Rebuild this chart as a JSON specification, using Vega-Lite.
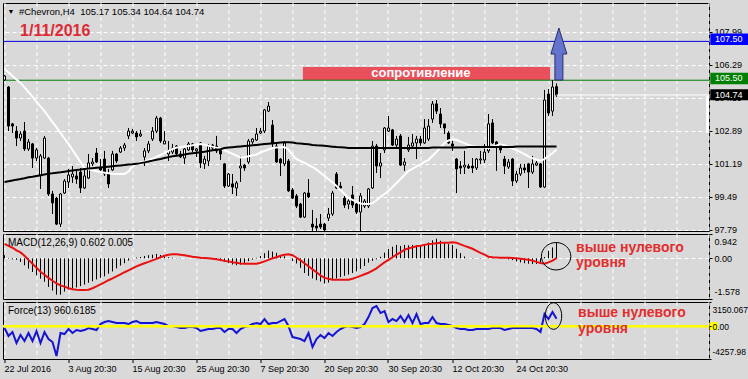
{
"$schema": "https://vega.github.io/schema/vega-lite/v6.json",
"background": "#d9d9d9",
"padding": {"left": 2, "top": 2, "right": 0, "bottom": 6},
"config": {
  "font": "Liberation Sans",
  "view": {"stroke": "#000000", "strokeWidth": 1},
  "scale": {"continuousPadding": 0},
  "axis": {"labelFont": "Liberation Sans", "labelFontSize": 9, "labelColor": "#000000", "tickColor": "#000000", "title": null, "domain": false},
  "text": {"font": "Liberation Sans"}
},
"datasets": {
"bars": [
{"i":0,"o":105.51,"h":105.77,"l":105.46,"c":105.72,"w":106.08,"b":100.26,"m":0.12,"s":0.56,"f":-234},
{"i":1,"o":105.15,"h":105.20,"l":102.88,"c":103.14,"w":105.90,"b":100.30,"m":-0.02,"s":0.48,"f":-1274},
{"i":2,"o":103.25,"h":103.30,"l":102.78,"c":103.14,"w":105.72,"b":100.34,"m":-0.04,"s":0.41,"f":-754},
{"i":3,"o":102.88,"h":103.14,"l":102.11,"c":102.52,"w":105.54,"b":100.38,"m":-0.06,"s":0.31,"f":-2184},
{"i":4,"o":102.52,"h":102.88,"l":102.37,"c":102.73,"w":105.36,"b":100.41,"m":-0.14,"s":0.23,"f":-1144},
{"i":5,"o":102.88,"h":103.35,"l":101.86,"c":101.96,"w":105.13,"b":100.45,"m":-0.27,"s":0.10,"f":-1924},
{"i":6,"o":101.96,"h":102.47,"l":101.86,"c":102.32,"w":104.89,"b":100.50,"m":-0.40,"s":-0.06,"f":-884},
{"i":7,"o":102.22,"h":102.27,"l":100.98,"c":101.49,"w":104.66,"b":100.53,"m":-0.53,"s":-0.21,"f":-1924},
{"i":8,"o":101.49,"h":102.01,"l":101.34,"c":101.91,"w":104.38,"b":100.57,"m":-0.66,"s":-0.37,"f":-624},
{"i":9,"o":100.57,"h":101.70,"l":99.90,"c":101.60,"w":104.15,"b":100.61,"m":-0.79,"s":-0.52,"f":-2184},
{"i":10,"o":101.49,"h":102.63,"l":101.44,"c":102.52,"w":103.91,"b":100.65,"m":-0.91,"s":-0.64,"f":-754},
{"i":11,"o":101.49,"h":101.55,"l":99.54,"c":99.64,"w":103.63,"b":100.69,"m":-1.11,"s":-0.76,"f":-1664},
{"i":12,"o":99.64,"h":99.80,"l":98.61,"c":99.18,"w":103.35,"b":100.71,"m":-1.25,"s":-0.87,"f":-2054},
{"i":13,"o":99.43,"h":99.49,"l":98.04,"c":98.09,"w":103.07,"b":100.74,"m":-1.41,"s":-0.97,"f":-3874},
{"i":14,"o":98.09,"h":99.69,"l":97.94,"c":99.64,"w":102.78,"b":100.76,"m":-1.41,"s":-1.05,"f":-884},
{"i":15,"o":99.69,"h":100.41,"l":99.64,"c":100.31,"w":102.50,"b":100.79,"m":-1.29,"s":-1.10,"f":-1014},
{"i":16,"o":100.26,"h":100.93,"l":99.95,"c":100.62,"w":102.22,"b":100.82,"m":-1.21,"s":-1.16,"f":-364},
{"i":17,"o":100.52,"h":101.08,"l":100.21,"c":100.67,"w":101.91,"b":100.85,"m":-1.17,"s":-1.20,"f":-884},
{"i":18,"o":100.57,"h":100.83,"l":100.16,"c":100.41,"w":101.60,"b":100.88,"m":-1.13,"s":-1.22,"f":-494},
{"i":19,"o":100.77,"h":100.98,"l":99.69,"c":99.95,"w":101.29,"b":100.90,"m":-1.08,"s":-1.23,"f":-624},
{"i":20,"o":99.95,"h":100.93,"l":99.90,"c":100.57,"w":100.98,"b":100.93,"m":-1.02,"s":-1.23,"f":-494},
{"i":21,"o":100.46,"h":101.70,"l":100.41,"c":101.24,"w":100.92,"b":100.95,"m":-0.95,"s":-1.22,"f":-234},
{"i":22,"o":101.19,"h":101.49,"l":101.08,"c":101.29,"w":100.86,"b":100.97,"m":-0.89,"s":-1.16,"f":-364},
{"i":23,"o":101.75,"h":102.01,"l":101.24,"c":101.29,"w":100.81,"b":100.99,"m":-0.82,"s":-1.09,"f":-494},
{"i":24,"o":100.98,"h":101.44,"l":100.83,"c":100.88,"w":100.77,"b":101.01,"m":-0.76,"s":-1.01,"f":286},
{"i":25,"o":101.44,"h":101.86,"l":100.57,"c":100.67,"w":100.74,"b":101.03,"m":-0.70,"s":-0.93,"f":546},
{"i":26,"o":100.67,"h":100.93,"l":99.95,"c":100.16,"w":100.71,"b":101.05,"m":-0.60,"s":-0.85,"f":676},
{"i":27,"o":100.88,"h":101.86,"l":100.83,"c":101.70,"w":100.68,"b":101.07,"m":-0.51,"s":-0.78,"f":546},
{"i":28,"o":101.70,"h":101.75,"l":101.24,"c":101.34,"w":100.67,"b":101.09,"m":-0.39,"s":-0.70,"f":416},
{"i":29,"o":101.80,"h":102.11,"l":101.75,"c":102.01,"w":100.67,"b":101.11,"m":-0.28,"s":-0.62,"f":416},
{"i":30,"o":102.01,"h":102.27,"l":101.86,"c":102.16,"w":100.67,"b":101.13,"m":-0.19,"s":-0.54,"f":416},
{"i":31,"o":102.63,"h":103.04,"l":102.47,"c":102.88,"w":100.80,"b":101.16,"m":-0.09,"s":-0.47,"f":286},
{"i":32,"o":102.78,"h":102.99,"l":102.73,"c":102.88,"w":101.06,"b":101.17,"m":-0.01,"s":-0.39,"f":546},
{"i":33,"o":102.78,"h":102.88,"l":102.37,"c":102.58,"w":101.21,"b":101.20,"m":0.03,"s":-0.31,"f":676},
{"i":34,"o":102.63,"h":102.94,"l":102.58,"c":102.73,"w":101.26,"b":101.23,"m":0.05,"s":-0.25,"f":416},
{"i":35,"o":101.55,"h":102.01,"l":101.08,"c":101.86,"w":101.31,"b":101.27,"m":0.09,"s":-0.19,"f":416},
{"i":36,"o":101.86,"h":102.37,"l":101.75,"c":102.22,"w":101.38,"b":101.31,"m":0.12,"s":-0.14,"f":416},
{"i":37,"o":102.47,"h":103.09,"l":102.37,"c":102.88,"w":101.46,"b":101.36,"m":0.14,"s":-0.08,"f":416},
{"i":38,"o":102.88,"h":103.66,"l":102.78,"c":103.55,"w":101.55,"b":101.40,"m":0.17,"s":-0.02,"f":546},
{"i":39,"o":103.55,"h":103.61,"l":102.27,"c":102.37,"w":101.65,"b":101.44,"m":0.13,"s":0.04,"f":416},
{"i":40,"o":102.22,"h":102.88,"l":102.20,"c":102.37,"w":101.75,"b":101.49,"m":0.08,"s":0.10,"f":286},
{"i":41,"o":101.70,"h":102.37,"l":101.34,"c":101.86,"w":101.86,"b":101.54,"m":0.04,"s":0.14,"f":26},
{"i":42,"o":101.80,"h":102.22,"l":101.70,"c":102.01,"w":101.96,"b":101.58,"m":0.02,"s":0.16,"f":26},
{"i":43,"o":102.11,"h":102.16,"l":101.65,"c":101.70,"w":102.03,"b":101.61,"m":0.01,"s":0.16,"f":-104},
{"i":44,"o":101.70,"h":101.86,"l":101.49,"c":101.55,"w":102.05,"b":101.64,"m":0.01,"s":0.14,"f":-234},
{"i":45,"o":101.49,"h":102.01,"l":101.19,"c":101.96,"w":102.09,"b":101.67,"m":0.00,"s":0.12,"f":-234},
{"i":46,"o":101.91,"h":102.32,"l":101.86,"c":102.22,"w":102.11,"b":101.71,"m":0.01,"s":0.09,"f":-104},
{"i":47,"o":102.22,"h":102.27,"l":101.80,"c":101.91,"w":102.15,"b":101.74,"m":0.00,"s":0.06,"f":-104},
{"i":48,"o":101.86,"h":102.01,"l":101.55,"c":101.96,"w":102.18,"b":101.76,"m":-0.01,"s":0.04,"f":-234},
{"i":49,"o":102.27,"h":102.32,"l":100.98,"c":101.24,"w":102.21,"b":101.79,"m":-0.02,"s":0.02,"f":-624},
{"i":50,"o":101.19,"h":101.60,"l":100.93,"c":101.44,"w":102.18,"b":101.82,"m":-0.01,"s":0.01,"f":-494},
{"i":51,"o":101.34,"h":102.22,"l":101.08,"c":102.11,"w":102.13,"b":101.86,"m":0.00,"s":0.00,"f":-364},
{"i":52,"o":102.16,"h":102.22,"l":101.86,"c":102.01,"w":102.08,"b":101.89,"m":-0.02,"s":-0.02,"f":-364},
{"i":53,"o":102.11,"h":102.63,"l":101.75,"c":101.86,"w":102.03,"b":101.92,"m":-0.04,"s":-0.04,"f":-234},
{"i":54,"o":101.91,"h":102.01,"l":101.39,"c":101.70,"w":101.97,"b":101.95,"m":-0.09,"s":-0.07,"f":-234},
{"i":55,"o":101.19,"h":101.24,"l":99.95,"c":100.05,"w":101.89,"b":102.01,"m":-0.14,"s":-0.10,"f":-754},
{"i":56,"o":100.05,"h":100.72,"l":100.00,"c":100.67,"w":101.80,"b":102.03,"m":-0.19,"s":-0.12,"f":-364},
{"i":57,"o":100.16,"h":100.67,"l":99.64,"c":100.00,"w":101.71,"b":102.05,"m":-0.24,"s":-0.15,"f":-364},
{"i":58,"o":99.95,"h":100.31,"l":99.54,"c":100.21,"w":101.61,"b":102.07,"m":-0.27,"s":-0.17,"f":-884},
{"i":59,"o":100.98,"h":101.60,"l":100.26,"c":101.08,"w":101.52,"b":102.09,"m":-0.24,"s":-0.20,"f":-364},
{"i":60,"o":101.13,"h":101.19,"l":100.83,"c":100.98,"w":101.53,"b":102.11,"m":-0.18,"s":-0.21,"f":-104},
{"i":61,"o":101.29,"h":102.47,"l":101.19,"c":102.37,"w":101.58,"b":102.13,"m":-0.11,"s":-0.21,"f":26},
{"i":62,"o":102.32,"h":102.52,"l":102.22,"c":102.47,"w":101.63,"b":102.15,"m":-0.05,"s":-0.21,"f":286},
{"i":63,"o":102.42,"h":103.04,"l":102.37,"c":102.73,"w":101.67,"b":102.17,"m":0.02,"s":-0.21,"f":416},
{"i":64,"o":102.78,"h":103.04,"l":102.73,"c":102.88,"w":101.78,"b":102.19,"m":0.09,"s":-0.17,"f":286},
{"i":65,"o":102.88,"h":104.02,"l":102.78,"c":103.97,"w":101.86,"b":102.21,"m":0.20,"s":-0.12,"f":936},
{"i":66,"o":103.91,"h":104.38,"l":103.86,"c":104.17,"w":101.93,"b":102.23,"m":0.30,"s":-0.06,"f":286},
{"i":67,"o":103.19,"h":103.45,"l":102.01,"c":102.22,"w":102.01,"b":102.25,"m":0.26,"s":0.00,"f":416},
{"i":68,"o":102.11,"h":102.22,"l":101.24,"c":101.29,"w":102.03,"b":102.27,"m":0.21,"s":0.04,"f":416},
{"i":69,"o":101.44,"h":101.49,"l":100.57,"c":101.24,"w":102.05,"b":102.29,"m":0.13,"s":0.10,"f":676},
{"i":70,"o":101.19,"h":102.37,"l":101.08,"c":102.27,"w":102.06,"b":102.31,"m":0.08,"s":0.14,"f":936},
{"i":71,"o":101.34,"h":101.44,"l":99.75,"c":99.80,"w":101.92,"b":102.31,"m":0.00,"s":0.16,"f":26},
{"i":72,"o":99.85,"h":99.95,"l":99.38,"c":99.43,"w":101.65,"b":102.29,"m":-0.10,"s":0.12,"f":-1404},
{"i":73,"o":99.54,"h":99.64,"l":98.92,"c":99.02,"w":101.44,"b":102.26,"m":-0.20,"s":0.02,"f":-1534},
{"i":74,"o":99.12,"h":99.18,"l":98.40,"c":98.45,"w":101.34,"b":102.24,"m":-0.37,"s":-0.08,"f":-1664},
{"i":75,"o":98.45,"h":99.74,"l":98.40,"c":99.69,"w":101.24,"b":102.22,"m":-0.57,"s":-0.19,"f":-1924},
{"i":76,"o":99.69,"h":100.41,"l":99.43,"c":99.49,"w":101.13,"b":102.20,"m":-0.68,"s":-0.31,"f":-884},
{"i":77,"o":98.09,"h":98.82,"l":97.74,"c":97.94,"w":101.03,"b":102.17,"m":-0.78,"s":-0.43,"f":-2704},
{"i":78,"o":97.99,"h":98.40,"l":97.74,"c":97.89,"w":100.90,"b":102.15,"m":-0.85,"s":-0.54,"f":-1664},
{"i":79,"o":98.09,"h":98.61,"l":97.84,"c":97.94,"w":100.73,"b":102.14,"m":-0.90,"s":-0.66,"f":-1144},
{"i":80,"o":98.09,"h":98.15,"l":97.74,"c":97.79,"w":100.57,"b":102.12,"m":-0.98,"s":-0.76,"f":-1534},
{"i":81,"o":98.40,"h":98.92,"l":98.25,"c":98.61,"w":100.40,"b":102.10,"m":-0.94,"s":-0.79,"f":-884},
{"i":82,"o":98.61,"h":99.80,"l":98.51,"c":99.69,"w":100.24,"b":102.08,"m":-0.83,"s":-0.83,"f":-1274},
{"i":83,"o":100.67,"h":100.77,"l":99.90,"c":99.95,"w":100.05,"b":102.06,"m":-0.78,"s":-0.83,"f":-754},
{"i":84,"o":100.05,"h":100.26,"l":99.90,"c":99.95,"w":99.85,"b":102.05,"m":-0.73,"s":-0.83,"f":-364},
{"i":85,"o":99.43,"h":99.54,"l":98.92,"c":99.07,"w":99.64,"b":102.03,"m":-0.68,"s":-0.83,"f":-104},
{"i":86,"o":99.12,"h":99.38,"l":98.86,"c":99.28,"w":99.43,"b":102.01,"m":-0.63,"s":-0.83,"f":26},
{"i":87,"o":99.59,"h":100.05,"l":98.92,"c":99.07,"w":99.34,"b":102.01,"m":-0.57,"s":-0.79,"f":-104},
{"i":88,"o":99.12,"h":99.18,"l":98.61,"c":98.71,"w":99.24,"b":102.01,"m":-0.51,"s":-0.74,"f":-234},
{"i":89,"o":98.71,"h":99.69,"l":97.63,"c":99.54,"w":99.15,"b":102.01,"m":-0.41,"s":-0.68,"f":-104},
{"i":90,"o":99.02,"h":99.38,"l":98.92,"c":99.28,"w":99.12,"b":102.01,"m":-0.30,"s":-0.62,"f":286},
{"i":91,"o":99.02,"h":99.95,"l":98.92,"c":99.90,"w":99.12,"b":102.01,"m":-0.17,"s":-0.56,"f":1196},
{"i":92,"o":99.95,"h":102.37,"l":99.90,"c":102.11,"w":99.17,"b":102.01,"m":-0.10,"s":-0.48,"f":2366},
{"i":93,"o":102.11,"h":102.22,"l":100.72,"c":101.08,"w":99.32,"b":102.01,"m":-0.04,"s":-0.39,"f":2626},
{"i":94,"o":101.08,"h":101.75,"l":100.46,"c":101.24,"w":99.49,"b":102.01,"m":0.06,"s":-0.27,"f":1716},
{"i":95,"o":101.91,"h":103.09,"l":101.75,"c":103.04,"w":99.64,"b":102.01,"m":0.22,"s":-0.16,"f":1976},
{"i":96,"o":102.88,"h":103.66,"l":102.83,"c":103.04,"w":99.80,"b":102.01,"m":0.36,"s":-0.06,"f":546},
{"i":97,"o":102.94,"h":102.99,"l":102.11,"c":102.16,"w":100.00,"b":102.01,"m":0.45,"s":0.04,"f":936},
{"i":98,"o":102.16,"h":102.63,"l":102.01,"c":102.47,"w":100.21,"b":102.01,"m":0.52,"s":0.14,"f":676},
{"i":99,"o":102.63,"h":102.73,"l":101.08,"c":101.13,"w":100.41,"b":102.01,"m":0.48,"s":0.23,"f":1326},
{"i":100,"o":101.13,"h":101.49,"l":100.83,"c":101.29,"w":100.62,"b":102.01,"m":0.52,"s":0.33,"f":546},
{"i":101,"o":101.91,"h":102.58,"l":101.80,"c":102.16,"w":100.83,"b":102.01,"m":0.50,"s":0.38,"f":1456},
{"i":102,"o":102.11,"h":102.73,"l":101.96,"c":102.27,"w":100.94,"b":102.01,"m":0.52,"s":0.43,"f":416},
{"i":103,"o":102.27,"h":102.63,"l":101.44,"c":102.47,"w":101.06,"b":102.01,"m":0.51,"s":0.47,"f":1586},
{"i":104,"o":102.47,"h":102.63,"l":102.11,"c":102.27,"w":101.17,"b":102.01,"m":0.50,"s":0.49,"f":286},
{"i":105,"o":102.27,"h":103.50,"l":102.22,"c":103.04,"w":101.29,"b":102.01,"m":0.55,"s":0.52,"f":416},
{"i":106,"o":102.47,"h":103.50,"l":102.37,"c":103.14,"w":101.40,"b":102.01,"m":0.61,"s":0.55,"f":416},
{"i":107,"o":103.50,"h":104.43,"l":103.30,"c":104.28,"w":101.61,"b":102.04,"m":0.70,"s":0.56,"f":1196},
{"i":108,"o":104.28,"h":104.48,"l":103.76,"c":103.91,"w":101.81,"b":102.04,"m":0.76,"s":0.58,"f":416},
{"i":109,"o":103.76,"h":104.07,"l":103.04,"c":103.25,"w":102.04,"b":102.04,"m":0.68,"s":0.60,"f":286},
{"i":110,"o":103.25,"h":103.25,"l":102.73,"c":103.04,"w":102.26,"b":102.04,"m":0.61,"s":0.60,"f":286},
{"i":111,"o":102.78,"h":102.88,"l":102.22,"c":102.27,"w":102.40,"b":102.04,"m":0.55,"s":0.60,"f":156},
{"i":112,"o":102.22,"h":102.42,"l":101.86,"c":102.11,"w":102.45,"b":102.04,"m":0.52,"s":0.62,"f":26},
{"i":113,"o":101.44,"h":101.49,"l":99.69,"c":100.93,"w":102.43,"b":102.04,"m":0.37,"s":0.60,"f":-234},
{"i":114,"o":101.08,"h":101.34,"l":100.67,"c":100.98,"w":102.34,"b":102.04,"m":0.20,"s":0.54,"f":-364},
{"i":115,"o":101.03,"h":101.86,"l":100.67,"c":101.13,"w":102.26,"b":102.04,"m":0.07,"s":0.48,"f":-364},
{"i":116,"o":101.08,"h":101.19,"l":100.93,"c":100.98,"w":102.17,"b":102.06,"m":0.01,"s":0.43,"f":-494},
{"i":117,"o":101.08,"h":101.49,"l":100.72,"c":100.98,"w":102.11,"b":102.06,"m":0.01,"s":0.37,"f":-494},
{"i":118,"o":100.98,"h":101.49,"l":100.88,"c":101.44,"w":102.08,"b":102.06,"m":0.00,"s":0.29,"f":-364},
{"i":119,"o":101.39,"h":101.86,"l":101.19,"c":101.44,"w":102.06,"b":102.06,"m":0.01,"s":0.21,"f":-364},
{"i":120,"o":101.39,"h":102.22,"l":101.24,"c":101.80,"w":102.04,"b":102.06,"m":0.00,"s":0.14,"f":-364},
{"i":121,"o":101.86,"h":103.76,"l":101.75,"c":103.25,"w":102.01,"b":102.06,"m":0.02,"s":0.06,"f":-364},
{"i":122,"o":103.30,"h":103.50,"l":102.22,"c":102.27,"w":102.06,"b":102.06,"m":0.01,"s":0.04,"f":-234},
{"i":123,"o":102.32,"h":102.37,"l":100.83,"c":102.11,"w":102.14,"b":102.06,"m":0.00,"s":0.03,"f":-234},
{"i":124,"o":102.16,"h":102.22,"l":101.75,"c":101.91,"w":102.20,"b":102.06,"m":-0.01,"s":0.02,"f":-234},
{"i":125,"o":101.44,"h":101.60,"l":100.67,"c":101.08,"w":102.15,"b":102.06,"m":-0.01,"s":0.02,"f":-494},
{"i":126,"o":101.03,"h":101.44,"l":100.93,"c":101.29,"w":102.07,"b":102.06,"m":-0.04,"s":0.02,"f":-364},
{"i":127,"o":101.44,"h":101.49,"l":100.05,"c":100.31,"w":101.98,"b":102.06,"m":-0.07,"s":0.01,"f":-234},
{"i":128,"o":100.31,"h":100.83,"l":100.21,"c":100.67,"w":101.90,"b":102.09,"m":-0.12,"s":0.00,"f":-234},
{"i":129,"o":100.67,"h":101.19,"l":100.57,"c":100.98,"w":101.80,"b":102.09,"m":-0.16,"s":-0.02,"f":-234},
{"i":130,"o":100.98,"h":101.19,"l":100.72,"c":100.88,"w":101.69,"b":102.09,"m":-0.19,"s":-0.04,"f":-234},
{"i":131,"o":101.19,"h":101.24,"l":99.95,"c":100.77,"w":101.58,"b":102.09,"m":-0.21,"s":-0.06,"f":-234},
{"i":132,"o":100.77,"h":101.60,"l":100.67,"c":101.19,"w":101.48,"b":102.09,"m":-0.22,"s":-0.09,"f":-234},
{"i":133,"o":101.13,"h":101.34,"l":101.08,"c":101.24,"w":101.42,"b":102.09,"m":-0.22,"s":-0.14,"f":-364},
{"i":134,"o":101.19,"h":101.24,"l":99.95,"c":100.00,"w":101.36,"b":102.09,"m":-0.19,"s":-0.18,"f":-754},
{"i":135,"o":100.00,"h":105.00,"l":99.95,"c":104.48,"w":101.44,"b":102.09,"m":0.05,"s":-0.21,"f":1586},
{"i":136,"o":104.79,"h":105.05,"l":103.66,"c":103.81,"w":101.60,"b":102.09,"m":0.29,"s":-0.16,"f":936},
{"i":137,"o":103.91,"h":105.51,"l":103.66,"c":105.15,"w":101.75,"b":102.09,"m":0.42,"s":-0.09,"f":1846},
{"i":138,"o":105.17,"h":105.34,"l":104.64,"c":104.74,"w":101.92,"b":102.09,"m":0.602,"s":0.005,"f":960.6185}
]
},
"spacing": 3,
"bounds": "flush",
"resolve": {"scale": {"x": "independent", "y": "independent"}},
"vconcat": [
{
  "width": 706, "height": 228,
  "data": {"name": "bars"},
  "encoding": {
    "x": {"field": "i", "type": "quantitative", "scale": {"domain": [-0.375, 176.125], "nice": false, "zero": false, "padding": 0},
      "axis": {"values": [0,8,16,24,32,40,48,56,64,72,80,88,96,104,112,120,128,136,144,152,160,168,176], "grid": true, "gridColor": "#ffffff", "gridDash": [4,3], "labels": false, "ticks": false, "domain": false, "title": null, "translate": 0, "zindex": 0}},
    "y": {"field": "p", "type": "quantitative", "scale": {"domain": [97.735, 109.477], "nice": false, "zero": false, "padding": 0},
      "axis": {"orient": "right", "values": [97.79, 99.49, 101.19, 102.89, 104.59, 106.29, 107.99], "format": ".2f", "grid": true, "gridColor": "#ffffff", "gridDash": [4,3], "tickSize": 3, "labelPadding": 2, "domain": false, "title": null, "zindex": 0}}
  },
  "layer": [
    {"data": {"values": [{"i": 74.6, "i2": 136.4, "p": 105.51, "p2": 106.18}]},
     "mark": {"type": "rect", "color": "#e9505c"},
     "encoding": {"x2": {"field": "i2"}, "y2": {"field": "p2"}}},
    {"data": {"values": [{"i": -0.375, "i2": 176.125, "p": 107.5}]},
     "mark": {"type": "rule", "color": "#0000e0", "strokeWidth": 1, "clip": true},
     "encoding": {"x2": {"field": "i2"}}},
    {"data": {"values": [{"i": -0.375, "i2": 176.125, "p": 105.5}]},
     "mark": {"type": "rule", "color": "#007a00", "strokeWidth": 1, "clip": true},
     "encoding": {"x2": {"field": "i2"}}},
    {"data": {"values": [{"i": 104.1, "p": 105.85, "t": "сопротивление"}]},
     "mark": {"type": "text", "color": "#ffffff", "fontSize": 13, "fontWeight": "bold", "align": "center", "baseline": "middle"},
     "encoding": {"text": {"field": "t"}}},
    {"mark": {"type": "rule", "color": "#000000", "strokeWidth": 1, "clip": true},
     "encoding": {"y": {"field": "l", "type": "quantitative", "scale": {"domain": [97.735, 109.477], "nice": false, "zero": false, "padding": 0},
       "axis": {"orient": "right", "values": [97.79, 99.49, 101.19, 102.89, 104.59, 106.29, 107.99], "format": ".2f", "grid": true, "gridColor": "#ffffff", "gridDash": [4,3], "tickSize": 3, "labelPadding": 2, "domain": false, "title": null, "zindex": 0}},
       "y2": {"field": "h"}}},
    {"mark": {"type": "bar", "orient": "vertical", "size": 2, "stroke": "#000000", "strokeWidth": 1, "clip": true},
     "encoding": {"y": {"field": "o", "type": "quantitative", "scale": {"domain": [97.735, 109.477], "nice": false, "zero": false, "padding": 0},
       "axis": {"orient": "right", "values": [97.79, 99.49, 101.19, 102.89, 104.59, 106.29, 107.99], "format": ".2f", "grid": true, "gridColor": "#ffffff", "gridDash": [4,3], "tickSize": 3, "labelPadding": 2, "domain": false, "title": null, "zindex": 0}},
       "y2": {"field": "c"},
       "fill": {"condition": {"test": "datum.c >= datum.o", "value": "#ffffff"}, "value": "#000000"}}},
    {"mark": {"type": "line", "color": "#ffffff", "strokeWidth": 2, "clip": true},
     "encoding": {"y": {"field": "w", "type": "quantitative", "scale": {"domain": [97.735, 109.477], "nice": false, "zero": false, "padding": 0},
       "axis": {"orient": "right", "values": [97.79, 99.49, 101.19, 102.89, 104.59, 106.29, 107.99], "format": ".2f", "grid": true, "gridColor": "#ffffff", "gridDash": [4,3], "tickSize": 3, "labelPadding": 2, "domain": false, "title": null, "zindex": 0}}}},
    {"mark": {"type": "line", "color": "#000000", "strokeWidth": 2, "clip": true},
     "encoding": {"y": {"field": "b", "type": "quantitative", "scale": {"domain": [97.735, 109.477], "nice": false, "zero": false, "padding": 0},
       "axis": {"orient": "right", "values": [97.79, 99.49, 101.19, 102.89, 104.59, 106.29, 107.99], "format": ".2f", "grid": true, "gridColor": "#ffffff", "gridDash": [4,3], "tickSize": 3, "labelPadding": 2, "domain": false, "title": null, "zindex": 0}}}},
    {"data": {"values": [{"i": 138, "i2": 176.125, "p": 104.74}]},
     "mark": {"type": "rule", "color": "#ffffff", "strokeWidth": 1, "clip": true},
     "encoding": {"x2": {"field": "i2"}}},
    {"data": {"values": [{"i": 175.4, "i2": 176.125, "p": 102.78, "p2": 104.69}]},
     "mark": {"type": "rect", "color": "#ffffff"},
     "encoding": {"x2": {"field": "i2"}, "y2": {"field": "p2"}}},
    {"data": {"values": [{"i": 138.6, "p": 106.85}]},
     "mark": {"type": "point", "shape": "M0,-3.25L1,0L0.5,0L0.5,3.25L-0.5,3.25L-0.5,0L-1,0Z", "size": 256, "filled": true, "color": "#6473cd", "stroke": "#2b2f6b", "strokeWidth": 1, "opacity": 1}},
    {"data": {"values": [
       {"i": 176.45, "i2": 186.2, "p": 107.31, "p2": 107.90, "k": "blue"},
       {"i": 176.45, "i2": 186.2, "p": 105.29, "p2": 105.89, "k": "green"},
       {"i": 176.45, "i2": 186.2, "p": 104.47, "p2": 105.03, "k": "black"}]},
     "mark": {"type": "rect"},
     "encoding": {"x2": {"field": "i2"}, "y2": {"field": "p2"},
       "color": {"field": "k", "type": "nominal", "scale": {"domain": ["blue", "green", "black"], "range": ["#0000ff", "#008000", "#000000"]}, "legend": null}}},
    {"data": {"values": [
       {"i": 177.6, "p": 107.6, "v": "107.50"},
       {"i": 177.6, "p": 105.59, "v": "105.50"},
       {"i": 177.6, "p": 104.75, "v": "104.74"}]},
     "mark": {"type": "text", "color": "#ffffff", "fontSize": 9, "align": "left", "baseline": "middle"},
     "encoding": {"text": {"field": "v"}}},
    {"data": {"values": [{"i": 1.6, "p": 109.01, "t": "▼"}]},
     "mark": {"type": "text", "color": "#000000", "fontSize": 7, "align": "center", "baseline": "middle"},
     "encoding": {"text": {"field": "t"}}},
    {"data": {"values": [{"i": 3.6, "p": 109.01, "t": "#Chevron,H4\u00a0\u00a0105.17 105.34 104.64 104.74"}]},
     "mark": {"type": "text", "color": "#000000", "fontSize": 9.5, "align": "left", "baseline": "middle"},
     "encoding": {"text": {"field": "t"}}},
    {"data": {"values": [{"i": 3.9, "p": 108.04, "t": "1/11/2016"}]},
     "mark": {"type": "text", "color": "#dd2a35", "fontSize": 16, "fontWeight": "bold", "align": "left", "baseline": "middle"},
     "encoding": {"text": {"field": "t"}}}
  ]
},
{
  "width": 706, "height": 65,
  "data": {"name": "bars"},
  "encoding": {
    "x": {"field": "i", "type": "quantitative", "scale": {"domain": [-0.375, 176.125], "nice": false, "zero": false, "padding": 0},
      "axis": {"values": [0,8,16,24,32,40,48,56,64,72,80,88,96,104,112,120,128,136,144,152,160,168,176], "grid": true, "gridColor": "#ffffff", "gridDash": [4,3], "labels": false, "ticks": false, "domain": false, "title": null, "translate": 0, "zindex": 0}},
    "y": {"field": "m", "type": "quantitative", "scale": {"domain": [-1.578, 0.942], "nice": false, "zero": false, "padding": 0},
      "axis": {"orient": "right", "values": [-1.578, 0, 0.942], "labelExpr": "datum.value == 0 ? '0.00' : (datum.value > 0 ? '0.942' : '-1.578')", "grid": true, "gridColor": "#ffffff", "gridDash": [4,3], "gridOpacity": {"condition": {"test": "datum.value == 0", "value": 1}, "value": 0}, "tickSize": 3, "labelPadding": 2, "labelFlush": true, "labelFlushOffset": -3, "domain": false, "title": null, "zindex": 0}}
  },
  "layer": [
    {"mark": {"type": "rule", "color": "#000000", "strokeWidth": 1},
     "encoding": {"y2": {"datum": 0}}},
    {"mark": {"type": "line", "color": "#e81010", "strokeWidth": 2, "clip": true},
     "encoding": {"y": {"field": "s", "type": "quantitative", "scale": {"domain": [-1.578, 0.942], "nice": false, "zero": false, "padding": 0},
       "axis": {"orient": "right", "values": [-1.578, 0, 0.942], "labelExpr": "datum.value == 0 ? '0.00' : (datum.value > 0 ? '0.942' : '-1.578')", "grid": true, "gridColor": "#ffffff", "gridDash": [4,3], "gridOpacity": {"condition": {"test": "datum.value == 0", "value": 1}, "value": 0}, "tickSize": 3, "labelPadding": 2, "labelFlush": true, "labelFlushOffset": -3, "domain": false, "title": null, "zindex": 0}}}},
    {"data": {"values": [{"i": 137.9, "m": 0.08}]},
     "mark": {"type": "point", "shape": "M-1.05,0A1.05,0.98 0 1 0 1.05,0A1.05,0.98 0 1 0 -1.05,0Z", "size": 784, "filled": false, "color": "#000000", "strokeWidth": 1, "opacity": 1}},
    {"data": {"values": [{"i": 0.875, "m": 0.59, "t": "MACD(12,26,9) 0.602 0.005"}]},
     "mark": {"type": "text", "color": "#000000", "fontSize": 10, "align": "left", "baseline": "middle"},
     "encoding": {"text": {"field": "t"}}},
    {"data": {"values": [{"i": 142.9, "m": 0.40, "t": "выше нулевого"}, {"i": 142.9, "m": -0.18, "t": "уровня"}]},
     "mark": {"type": "text", "color": "#e12d2d", "fontSize": 14, "fontWeight": "bold", "align": "left", "baseline": "middle"},
     "encoding": {"text": {"field": "t"}}}
  ]
},
{
  "width": 706, "height": 57,
  "data": {"name": "bars"},
  "encoding": {
    "x": {"field": "i", "type": "quantitative", "scale": {"domain": [-0.375, 176.125], "nice": false, "zero": false, "padding": 0},
      "axis": {"values": [0,8,16,24,32,40,48,56,64,72,80,88,96,104,112,120,128,136,144,152,160,168,176],
        "labelExpr": "datum.value == 0 ? '22 Jul 2016' : datum.value == 16 ? '3 Aug 20:30' : datum.value == 32 ? '15 Aug 20:30' : datum.value == 48 ? '25 Aug 20:30' : datum.value == 64 ? '7 Sep 20:30' : datum.value == 80 ? '20 Sep 20:30' : datum.value == 96 ? '30 Sep 20:30' : datum.value == 112 ? '12 Oct 20:30' : datum.value == 128 ? '24 Oct 20:30' : ''",
        "labelAlign": "left", "labelBaseline": "top", "labelPadding": 2, "labelOverlap": false, "labelFlush": false,
        "ticks": true, "tickSize": 4, "tickOpacity": {"condition": {"test": "datum.value % 16 == 0 && datum.value <= 128", "value": 1}, "value": 0},
        "grid": true, "gridColor": "#ffffff", "gridDash": [4,3], "domain": false, "title": null, "translate": 0, "zindex": 0}},
    "y": {"field": "f", "type": "quantitative", "scale": {"domain": [-4257.98, 3150.067], "nice": false, "zero": false, "padding": 0},
      "axis": {"orient": "right", "values": [-4257.98, 0, 3150.067], "labelExpr": "datum.value == 0 ? '0.00' : (datum.value > 0 ? '3150.067' : '-4257.98')", "grid": false, "tickSize": 2, "labelPadding": 1, "labelFontSize": 8.5, "labelFlush": true, "labelFlushOffset": -3, "domain": false, "title": null, "zindex": 1}}
  },
  "layer": [
    {"data": {"values": [{"i": 176.3, "i2": 178.3, "f": 546, "f2": -494}]},
     "mark": {"type": "rect", "color": "#ffff00"},
     "encoding": {"x2": {"field": "i2"}, "y2": {"field": "f2"}}},
    {"mark": {"type": "line", "color": "#1414d2", "strokeWidth": 2, "clip": true}},
    {"data": {"values": [{"i": -0.375, "i2": 176.125, "f": 0}]},
     "mark": {"type": "rule", "color": "#ffff00", "strokeWidth": 2.5, "clip": true},
     "encoding": {"x2": {"field": "i2"}}},
    {"data": {"values": [{"i": 137.25, "f": 1326}]},
     "mark": {"type": "point", "shape": "M-0.617,0A0.617,1 0 1 0 0.617,0A0.617,1 0 1 0 -0.617,0Z", "size": 707, "filled": false, "color": "#000000", "strokeWidth": 1, "opacity": 1}},
    {"data": {"values": [{"i": 0.875, "f": 1976, "t": "Force(13) 960.6185"}]},
     "mark": {"type": "text", "color": "#000000", "fontSize": 10, "align": "left", "baseline": "middle"},
     "encoding": {"text": {"field": "t"}}},
    {"data": {"values": [{"i": 143.4, "f": 1716, "t": "выше нулевого"}, {"i": 143.4, "f": -364, "t": "уровня"}]},
     "mark": {"type": "text", "color": "#e12d2d", "fontSize": 14, "fontWeight": "bold", "align": "left", "baseline": "middle"},
     "encoding": {"text": {"field": "t"}}}
  ]
}
]
}
